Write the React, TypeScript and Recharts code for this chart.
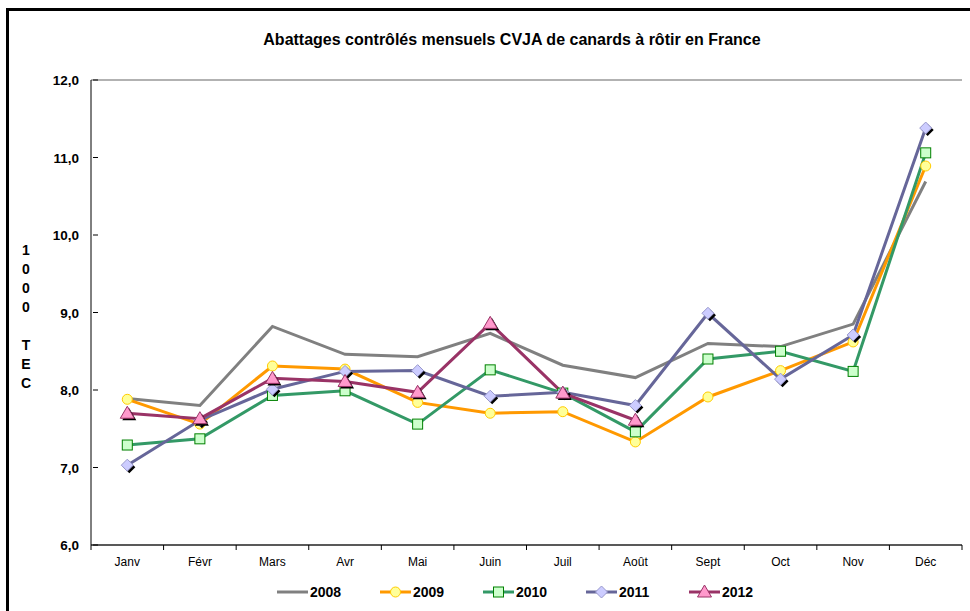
import { LineChart, Line, XAxis, YAxis, CartesianGrid } from "recharts";

const months = ["Janv", "Févr", "Mars", "Avr", "Mai", "Juin", "Juil", "Août", "Sept", "Oct", "Nov", "Déc"];

const v2008 = [7.89, 7.8, 8.82, 8.46, 8.43, 8.73, 8.32, 8.16, 8.6, 8.56, 8.85, 10.69];
const v2009 = [7.88, 7.56, 8.31, 8.27, 7.84, 7.7, 7.72, 7.33, 7.91, 8.25, 8.62, 10.89];
const v2010 = [7.29, 7.37, 7.93, 7.99, 7.56, 8.26, 7.96, 7.46, 8.4, 8.5, 8.24, 11.06];
const v2011 = [7.03, 7.61, 8.01, 8.24, 8.25, 7.92, 7.97, 7.8, 8.99, 8.14, 8.71, 11.38];
const v2012 = [7.7, 7.63, 8.15, 8.11, 7.97, 8.86, 7.96, 7.61];

const yTicks = [6, 7, 8, 9, 10, 11, 12];

const data = months.map((m, i) => ({
  month: m,
  y2008: v2008[i],
  y2009: v2009[i],
  y2010: v2010[i],
  y2011: v2011[i],
  y2012: i < v2012.length ? v2012[i] : null,
}));

const FONT = "Arial, 'Liberation Sans', sans-serif";
const PLOT_LEFT = 91;
const PLOT_RIGHT = 962;
const BAND = (PLOT_RIGHT - PLOT_LEFT) / months.length;

type Marker = "none" | "circle" | "square" | "diamond" | "triangle";

const series: { key: string; name: string; color: string; marker: Marker; fill: string; stroke: string }[] = [
  { key: "y2008", name: "2008", color: "#808080", marker: "none", fill: "", stroke: "" },
  { key: "y2009", name: "2009", color: "#FF9900", marker: "circle", fill: "#FFFF99", stroke: "#FFCC00" },
  { key: "y2010", name: "2010", color: "#339966", marker: "square", fill: "#CCFFCC", stroke: "#008000" },
  { key: "y2011", name: "2011", color: "#666699", marker: "diamond", fill: "#CCCCFF", stroke: "#9999CC" },
  { key: "y2012", name: "2012", color: "#993366", marker: "triangle", fill: "#FF99CC", stroke: "#993366" },
];

const markerShape = (marker: Marker, cx: number, cy: number, fill: string, stroke: string, shadow: boolean) => {
  if (marker === "circle") {
    return <circle cx={cx} cy={cy} r={5} fill={fill} stroke={stroke} strokeWidth={1} />;
  }
  if (marker === "square") {
    return <rect x={cx - 5} y={cy - 5} width={10} height={10} fill={fill} stroke={stroke} strokeWidth={1} />;
  }
  if (marker === "diamond") {
    const pts = (dx: number, dy: number) =>
      `${cx + dx},${cy - 6 + dy} ${cx + 6 + dx},${cy + dy} ${cx + dx},${cy + 6 + dy} ${cx - 6 + dx},${cy + dy}`;
    return (
      <g>
        {shadow && <polygon points={pts(2, 2)} fill="#000" />}
        <polygon points={pts(0, 0)} fill={fill} stroke={stroke} strokeWidth={1} />
      </g>
    );
  }
  if (marker === "triangle") {
    const pts = (dx: number, dy: number) =>
      `${cx + dx},${cy - 7 + dy} ${cx + 7 + dx},${cy + 5 + dy} ${cx - 7 + dx},${cy + 5 + dy}`;
    return (
      <g>
        {shadow && <polygon points={pts(2, 2)} fill="#000" />}
        <polygon points={pts(0, 0)} fill={fill} stroke={stroke} strokeWidth={1} />
      </g>
    );
  }
  return null;
};

const YTick = (props: any) => {
  const { x, y, payload } = props;
  return (
    <g>
      <line x1={x + 10} x2={x + 15} y1={y} y2={y} stroke="#000" />
      <text x={x - 4} y={y + 5} textAnchor="end" fontSize={13.5} fontWeight="bold" fontFamily={FONT} fill="#000">
        {payload.value.toFixed(1).replace(".", ",")}
      </text>
    </g>
  );
};

const XTick = (props: any) => {
  const { x, y, payload, index } = props;
  return (
    <g>
      <line x1={x - BAND / 2} x2={x - BAND / 2} y1={y - 8} y2={y - 3} stroke="#000" />
      {index === months.length - 1 && (
        <line x1={x + BAND / 2} x2={x + BAND / 2} y1={y - 8} y2={y - 3} stroke="#000" />
      )}
      <text x={x} y={y + 13} textAnchor="middle" fontSize={12} fontFamily={FONT} fill="#000">
        {payload.value}
      </text>
    </g>
  );
};

const yLabel = ["1", "0", "0", "0", "", "T", "E", "C"];

export default function App() {
  return (
    <div style={{ position: "absolute", left: 0, top: 0, width: 970, height: 611, overflow: "hidden", background: "#fff", fontFamily: FONT }}>
      <div style={{ position: "absolute", left: 6, top: 8, width: 1000, height: 700, border: "3px solid #000" }} />
      <div style={{ position: "absolute", left: 0, top: 31, width: 1024, textAlign: "center", fontSize: 16, fontWeight: "bold" }}>
        Abattages contrôlés mensuels CVJA de canards à rôtir en France
      </div>
      {yLabel.map((c, i) => (
        <div key={i} style={{ position: "absolute", left: 19, top: 242 + i * 19, width: 14, textAlign: "center", fontSize: 14, fontWeight: "bold" }}>
          {c}
        </div>
      ))}
      <div style={{ position: "absolute", left: 0, top: 0 }}>
        <LineChart width={970} height={611} data={data} margin={{ top: 80, right: 8, bottom: 0, left: 6 }}>
          <CartesianGrid vertical={false} stroke="#999" strokeWidth={1.5} />
          <XAxis
            dataKey="month"
            height={66}
            axisLine={{ stroke: "#000" }}
            tickLine={false}
            tick={<XTick />}
            interval={0}
            padding={{ left: BAND / 2, right: BAND / 2 }}
          />
          <YAxis
            yAxisId="left"
            width={85}
            domain={[6, 12]}
            ticks={yTicks}
            axisLine={{ stroke: "#000" }}
            tickLine={false}
            tick={<YTick />}
            interval={0}
          />
          <YAxis yAxisId="right" orientation="right" width={0} domain={[6, 12]} tick={false} tickLine={false} axisLine={{ stroke: "#999", strokeWidth: 2 }} />
          {series.map((s) => (
            <Line
              key={s.key}
              yAxisId="left"
              dataKey={s.key}
              name={s.name}
              stroke={s.color}
              strokeWidth={3}
              isAnimationActive={false}
              connectNulls={false}
              dot={
                s.marker === "none"
                  ? false
                  : (p: any) =>
                      p.value == null || p.cy == null ? (
                        <g key={p.index} />
                      ) : (
                        <g key={p.index}>{markerShape(s.marker, p.cx, p.cy, s.fill, s.stroke, s.marker === "diamond" || s.marker === "triangle")}</g>
                      )
              }
              activeDot={false}
            />
          ))}
        </LineChart>
      </div>
      {series.map((s, i) => (
        <div key={s.key} style={{ position: "absolute", left: 277 + i * 103, top: 582, height: 20, display: "flex", alignItems: "center" }}>
          <svg width={32} height={16}>
            <line x1={0} x2={31} y1={8} y2={8} stroke={s.color} strokeWidth={3} />
            {markerShape(s.marker, 15.5, 8, s.fill, s.stroke, false)}
          </svg>
          <span style={{ fontSize: 14, fontWeight: "bold", marginLeft: 1 }}>{s.name}</span>
        </div>
      ))}
    </div>
  );
}
